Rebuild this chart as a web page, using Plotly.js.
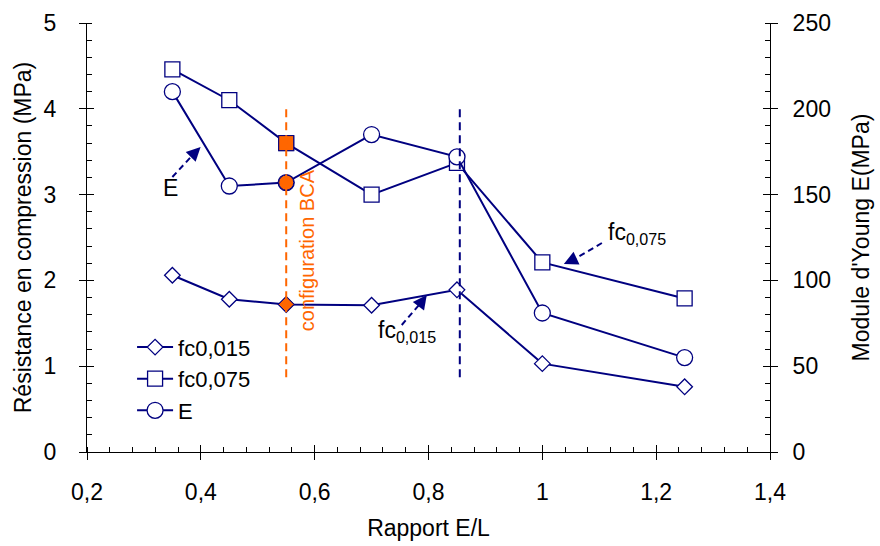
<!DOCTYPE html>
<html>
<head>
<meta charset="utf-8">
<script src="https://cdn.plot.ly/plotly-3.0.1.min.js"></script>
<style>html,body{margin:0;padding:0;background:#fff;}#chart{width:880px;height:546px;}</style>
</head>
<body>
<div id="chart"></div>
<script>
// Data
const ratioEL = [0.35, 0.45, 0.55, 0.7, 0.85, 1.0, 1.25];
const fc015 = [2.06, 1.78, 1.72, 1.71, 1.89, 1.03, 0.76];
const fc075 = [4.46, 4.10, 3.60, 3.00, 3.37, 2.21, 1.79];
const moduleE = [210, 155, 157, 185, 172, 81, 55];
const bcaRatio = 0.55;
const bcaIndex = 2;
const markerLineX = 0.855;
const seriesNames = ['fc0,015', 'fc0,075', 'E'];

const navy = '#000080';
const orange = '#FF6600';
const font = 'Liberation Sans, Arial, sans-serif';
const FS = 23;

const traces = [
  {x: ratioEL, y: fc015, name: seriesNames[0], mode: 'lines+markers', yaxis: 'y',
   line: {color: navy, width: 2}, marker: {symbol: 'diamond', size: 12, color: '#fff', line: {color: navy, width: 1.3}}},
  {x: ratioEL, y: fc075, name: seriesNames[1], mode: 'lines+markers', yaxis: 'y',
   line: {color: navy, width: 2}, marker: {symbol: 'square', size: 15, color: '#fff', line: {color: navy, width: 1.3}}},
  {x: ratioEL, y: moduleE, name: seriesNames[2], mode: 'lines+markers', yaxis: 'y2',
   line: {color: navy, width: 2}, marker: {symbol: 'circle', size: 16, color: '#fff', line: {color: navy, width: 1.3}}},
  {x: [bcaRatio], y: [fc015[bcaIndex]], mode: 'markers', yaxis: 'y', showlegend: false, hoverinfo: 'skip',
   marker: {symbol: 'diamond', size: 12, color: orange, line: {color: navy, width: 1}}},
  {x: [bcaRatio], y: [fc075[bcaIndex]], mode: 'markers', yaxis: 'y', showlegend: false, hoverinfo: 'skip',
   marker: {symbol: 'square', size: 15, color: orange, line: {color: navy, width: 1}}},
  {x: [bcaRatio], y: [moduleE[bcaIndex]], mode: 'markers', yaxis: 'y2', showlegend: false, hoverinfo: 'skip',
   marker: {symbol: 'circle', size: 15, color: orange, line: {color: navy, width: 1}}}
];

function tickAxis(extra) {
  return Object.assign({showgrid: false, zeroline: false, showline: true, linecolor: '#000', linewidth: 1,
    ticks: 'outside', ticklen: 7, tickcolor: '#000', tickwidth: 1,
    tickfont: {family: font, size: FS}}, extra);
}

const layout = {
  width: 880, height: 546,
  margin: {l: 87, r: 110, t: 23, b: 94},
  paper_bgcolor: '#fff', plot_bgcolor: '#fff',
  separators: ', ',
  font: {family: font, size: FS, color: '#000'},
  showlegend: true,
  legend: {x: 0.066, y: 0.293, xanchor: 'left', yanchor: 'top', bgcolor: 'rgba(0,0,0,0)',
           font: {family: font, size: 22}, tracegroupgap: 0, itemwidth: 36},
  xaxis: tickAxis({range: [0.2, 1.4], dtick: 0.2, tick0: 0.2, ticklabelstandoff: 12,
          minor: {dtick: 0.04, ticks: 'inside', ticklen: 5, tickcolor: '#000', showgrid: false},
          title: {text: 'Rapport E/L', font: {family: font, size: FS}, standoff: 16}}),
  xaxis2: {range: [0.2, 1.4], dtick: 0.2, tick0: 0.2, overlaying: 'x', side: 'bottom', showgrid: false, zeroline: false,
          showline: false, ticks: 'inside', ticklen: 7, tickcolor: '#000', showticklabels: false},
  yaxis: tickAxis({range: [0, 5], dtick: 1, ticklabelstandoff: 18,
          minor: {dtick: 0.2, ticks: 'inside', ticklen: 5, tickcolor: '#000', showgrid: false},
          title: {text: 'Résistance en compression (MPa)', font: {family: font, size: FS}, standoff: 5}}),
  yaxis2: tickAxis({range: [0, 250], dtick: 50, overlaying: 'y', side: 'right', ticklabelstandoff: 10,
          minor: {dtick: 10, ticks: 'inside', ticklen: 5, tickcolor: '#000', showgrid: false},
          title: {text: "Module d'Young E(MPa)", font: {family: font, size: FS}, standoff: 22}}),
  yaxis3: {range: [0, 5], dtick: 1, overlaying: 'y', side: 'left', showgrid: false, zeroline: false,
          showline: false, ticks: 'inside', ticklen: 7, tickcolor: '#000', showticklabels: false},
  yaxis4: {range: [0, 250], dtick: 50, overlaying: 'y', side: 'right', showgrid: false, zeroline: false,
          showline: false, ticks: 'inside', ticklen: 7, tickcolor: '#000', showticklabels: false},
  shapes: [
    {type: 'line', xref: 'x', yref: 'y', x0: bcaRatio, x1: bcaRatio, y0: 0.87, y1: 4.03,
     line: {color: orange, width: 2, dash: '8px,5px'}},
    {type: 'line', xref: 'x', yref: 'y', x0: markerLineX, x1: markerLineX, y0: 0.87, y1: 4.03,
     line: {color: navy, width: 2, dash: '8px,5px'}},
    // dashed arrow shafts
    {type: 'line', xref: 'x', yref: 'y', x0: 0.350, y0: 3.205, x1: 0.389, y1: 3.485,
     line: {color: navy, width: 2, dash: '6px,4px'}},
    {type: 'line', xref: 'x', yref: 'y', x0: 1.1046, y0: 2.436, x1: 1.057, y1: 2.25,
     line: {color: navy, width: 2, dash: '6px,4px'}},
    {type: 'line', xref: 'x', yref: 'y', x0: 0.753, y0: 1.48, x1: 0.788, y1: 1.75,
     line: {color: navy, width: 2, dash: '6px,4px'}}
  ],
  annotations: [
    {xref: 'x', yref: 'y', x: 0.588, y: 2.35, text: 'configuration BCA', textangle: -90, showarrow: false,
     font: {family: font, size: 20, color: orange}},
    {xref: 'x', yref: 'y', x: 0.346, y: 3.08, text: 'E', showarrow: false, font: {family: font, size: 23}},
    {xref: 'x', yref: 'y', x: 1.166, y: 2.55, text: 'fc<sub>0,075</sub>', showarrow: false, font: {family: font, size: 23}},
    {xref: 'x', yref: 'y', x: 0.762, y: 1.4, text: 'fc<sub>0,015</sub>', showarrow: false, font: {family: font, size: 23}},
    // arrowheads
    {xref: 'x', yref: 'y', axref: 'x', ayref: 'y', x: 0.3996, y: 3.555, ax: 0.389, ay: 3.485, text: '', showarrow: true,
     arrowhead: 2, arrowsize: 1.4, arrowwidth: 2, arrowcolor: navy},
    {xref: 'x', yref: 'y', axref: 'x', ayref: 'y', x: 1.0378, y: 2.19, ax: 1.057, ay: 2.25, text: '', showarrow: true,
     arrowhead: 2, arrowsize: 1.4, arrowwidth: 2, arrowcolor: navy},
    {xref: 'x', yref: 'y', axref: 'x', ayref: 'y', x: 0.797, y: 1.83, ax: 0.788, ay: 1.75, text: '', showarrow: true,
     arrowhead: 2, arrowsize: 1.4, arrowwidth: 2, arrowcolor: navy}
  ]
};

// dummy invisible traces to activate the crossing-tick overlay axes
traces.push({x: [null], y: [null], xaxis: 'x2', yaxis: 'y3', showlegend: false, hoverinfo: 'skip', mode: 'markers'});
traces.push({x: [null], y: [null], xaxis: 'x2', yaxis: 'y4', showlegend: false, hoverinfo: 'skip', mode: 'markers'});

Plotly.newPlot('chart', traces, layout, {displayModeBar: false, staticPlot: true});
</script>
</body>
</html>
